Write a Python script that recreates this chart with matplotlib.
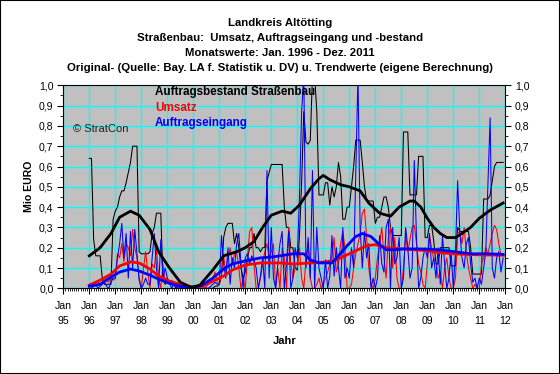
import matplotlib
matplotlib.use("Agg")
import matplotlib.pyplot as plt
from matplotlib.patches import Rectangle
from matplotlib.ticker import MultipleLocator
import numpy as np

plt.rcParams['font.family'] = ['Liberation Sans', 'DejaVu Sans']

# Monatswerte Jan. 1996 - Dez. 2011 (Mio EURO), eine Zeile je Jahr
bestand = [
    0.64, 0.64, 0.24, 0.16, 0.16, 0.16, 0.05, 0.02, 0.02, 0.02, 0.02, 0.34,
    0.38, 0.40, 0.45, 0.48, 0.48, 0.52, 0.57, 0.62, 0.70, 0.70, 0.70, 0.18,
    0.17, 0.17, 0.17, 0.17, 0.18, 0.27, 0.30, 0.37, 0.37, 0.37, 0.04, 0.02,
    0.03, 0.02, 0.02, 0.02, 0.01, 0.01, 0.01, 0.00, 0.00, 0.00, 0.00, 0.00,
    0.00, 0.00, 0.00, 0.00, 0.00, 0.00, 0.00, 0.00, 0.00, 0.00, 0.01, 0.01,
    0.02, 0.06, 0.25, 0.30, 0.32, 0.32, 0.32, 0.22, 0.27, 0.20, 0.10, 0.05,
    0.08, 0.15, 0.20, 0.20, 0.27, 0.20, 0.20, 0.18, 0.20, 0.20, 0.53, 0.57,
    0.61, 0.61, 0.61, 0.61, 0.61, 0.61, 0.40, 0.30, 0.30, 0.20, 0.20, 0.10,
    0.09, 0.26, 0.52, 0.87, 0.72, 0.71, 0.73, 1.05, 1.05, 0.87, 0.46, 0.46,
    0.46, 0.52, 0.52, 0.41, 0.50, 0.45, 0.50, 0.62, 0.55, 0.34, 0.34, 0.40,
    0.40, 0.50, 0.60, 0.73, 0.73, 0.73, 0.62, 0.50, 0.43, 0.43, 0.43, 0.43,
    0.32, 0.35, 0.35, 0.40, 0.45, 0.45, 0.40, 0.30, 0.26, 0.26, 0.26, 0.26,
    0.26, 0.77, 0.77, 0.77, 0.46, 0.46, 0.46, 0.46, 0.65, 0.65, 0.65, 0.25,
    0.25, 0.31, 0.31, 0.23, 0.12, 0.12, 0.20, 0.20, 0.20, 0.20, 0.20, 0.11,
    0.11, 0.11, 0.30, 0.28, 0.28, 0.28, 0.28, 0.28, 0.20, 0.07, 0.07, 0.07,
    0.07, 0.07, 0.44, 0.44, 0.44, 0.46, 0.53, 0.60, 0.62, 0.62, 0.62, 0.62,
]
umsatz = [
    0.01, 0.02, 0.02, 0.03, 0.03, 0.02, 0.03, 0.05, 0.04, 0.03, 0.06, 0.04,
    0.05, 0.17, 0.15, 0.22, 0.13, 0.22, 0.20, 0.16, 0.29, 0.20, 0.15, 0.05,
    0.00, 0.10, 0.18, 0.08, 0.00, 0.12, 0.10, 0.20, 0.05, 0.00, 0.12, 0.03,
    0.05, 0.02, 0.04, 0.02, 0.00, 0.01, 0.00, 0.00, 0.00, 0.00, 0.00, 0.00,
    0.00, 0.00, 0.00, 0.00, 0.00, 0.00, 0.01, 0.02, 0.03, 0.05, 0.08, 0.03,
    0.02, 0.07, 0.16, 0.08, 0.15, 0.20, 0.12, 0.17, 0.18, 0.10, 0.00, 0.05,
    0.00, 0.15, 0.28, 0.30, 0.12, 0.00, 0.00, 0.05, 0.12, 0.18, 0.22, 0.15,
    0.18, 0.22, 0.00, 0.10, 0.00, 0.20, 0.15, 0.00, 0.30, 0.12, 0.05, 0.10,
    0.10, 0.20, 0.05, 0.00, 0.14, 0.22, 0.05, 0.00, 0.00, 0.02, 0.05, 0.00,
    0.02, 0.05, 0.08, 0.12, 0.16, 0.25, 0.08, 0.12, 0.22, 0.28, 0.20, 0.00,
    0.00, 0.02, 0.10, 0.17, 0.22, 0.27, 0.37, 0.39, 0.25, 0.10, 0.02, 0.00,
    0.05, 0.15, 0.22, 0.30, 0.15, 0.05, 0.25, 0.30, 0.10, 0.25, 0.05, 0.00,
    0.00, 0.10, 0.26, 0.18, 0.24, 0.30, 0.31, 0.22, 0.12, 0.08, 0.02, 0.00,
    0.12, 0.26, 0.20, 0.14, 0.13, 0.05, 0.08, 0.00, 0.10, 0.15, 0.05, 0.00,
    0.00, 0.05, 0.27, 0.28, 0.22, 0.30, 0.18, 0.10, 0.05, 0.00, 0.02, 0.00,
    0.00, 0.12, 0.15, 0.20, 0.17, 0.22, 0.27, 0.31, 0.29, 0.22, 0.16, 0.17,
]
eingang = [
    0.00, 0.00, 0.01, 0.02, 0.00, 0.01, 0.02, 0.03, 0.01, 0.00, 0.03, 0.05,
    0.05, 0.15, 0.22, 0.32, 0.15, 0.27, 0.05, 0.28, 0.10, 0.29, 0.17, 0.04,
    0.00, 0.02, 0.05, 0.02, 0.02, 0.15, 0.27, 0.10, 0.00, 0.24, 0.05, 0.10,
    0.05, 0.03, 0.00, 0.02, 0.00, 0.01, 0.00, 0.00, 0.00, 0.00, 0.00, 0.00,
    0.00, 0.00, 0.00, 0.00, 0.00, 0.00, 0.00, 0.00, 0.01, 0.02, 0.03, 0.02,
    0.02, 0.26, 0.12, 0.05, 0.20, 0.02, 0.15, 0.10, 0.22, 0.27, 0.12, 0.00,
    0.15, 0.17, 0.12, 0.16, 0.14, 0.10, 0.00, 0.06, 0.15, 0.00, 0.58, 0.05,
    0.30, 0.05, 0.00, 0.12, 0.22, 0.28, 0.00, 0.12, 0.28, 0.00, 0.05, 0.20,
    0.15, 0.45, 0.87, 1.05, 0.10, 0.25, 0.05, 0.58, 0.00, 0.30, 0.10, 0.05,
    0.00, 0.14, 0.00, 0.06, 0.26, 0.06, 0.20, 0.10, 0.00, 0.30, 0.05, 0.10,
    0.05, 0.20, 0.10, 0.58, 1.05, 0.30, 0.10, 0.28, 0.15, 0.22, 0.00, 0.05,
    0.00, 0.05, 0.26, 0.12, 0.08, 0.30, 0.34, 0.00, 0.30, 0.12, 0.15, 0.25,
    0.00, 0.05, 0.30, 0.20, 0.05, 0.10, 0.63, 0.25, 0.00, 0.05, 0.15, 0.20,
    0.15, 0.27, 0.10, 0.15, 0.05, 0.20, 0.02, 0.26, 0.12, 0.00, 0.05, 0.18,
    0.00, 0.18, 0.53, 0.28, 0.15, 0.10, 0.22, 0.25, 0.12, 0.03, 0.05, 0.00,
    0.05, 0.02, 0.10, 0.18, 0.52, 0.84, 0.10, 0.05, 0.15, 0.18, 0.08, 0.15,
]

# Trendwerte: Monat (ab Jan. 1996) und Wert
trend_bestand_m = [0, 5, 10, 14, 19, 23, 28, 32, 37, 42, 47, 51, 57, 62, 68, 72, 76, 80, 84, 89,
                   93, 97, 102, 106, 108, 111, 116, 120, 125, 129, 134, 139, 143, 148, 150, 153,
                   156, 159, 162, 165, 169, 172, 176, 180, 185, 191]
trend_bestand = [0.16, 0.20, 0.27, 0.35, 0.38, 0.36, 0.29, 0.18, 0.10, 0.03, 0.005, 0.015, 0.09,
                 0.16, 0.18, 0.20, 0.23, 0.30, 0.36, 0.38, 0.37, 0.41, 0.49, 0.54, 0.556, 0.535,
                 0.51, 0.50, 0.48, 0.42, 0.37, 0.355, 0.40, 0.43, 0.43, 0.40, 0.345, 0.30, 0.27,
                 0.25, 0.25, 0.27, 0.30, 0.345, 0.385, 0.42]
trend_umsatz_m = [0, 5, 10, 14, 19, 23, 28, 32, 37, 42, 48, 52, 57, 62, 66, 72, 79, 88, 94, 103,
                  109, 114, 119, 124, 128, 132, 137, 143, 150, 156, 162, 168, 174, 180, 191]
trend_umsatz = [0.016, 0.04, 0.07, 0.11, 0.13, 0.125, 0.095, 0.06, 0.035, 0.02, 0.005, 0.01,
                0.035, 0.06, 0.09, 0.115, 0.125, 0.125, 0.12, 0.125, 0.13, 0.14, 0.165, 0.19,
                0.21, 0.215, 0.20, 0.195, 0.19, 0.185, 0.175, 0.17, 0.167, 0.165, 0.163]
trend_eingang_m = [0, 5, 10, 14, 19, 23, 28, 32, 37, 42, 48, 52, 57, 62, 66, 72, 79, 85, 88, 94,
                   99, 102, 106, 112, 115, 119, 123, 126, 130, 134, 137, 141, 145, 153, 161, 169,
                   176, 184, 191]
trend_eingang = [0.01, 0.02, 0.055, 0.08, 0.095, 0.085, 0.065, 0.045, 0.025, 0.01, 0.005, 0.015,
                 0.05, 0.095, 0.12, 0.135, 0.15, 0.155, 0.16, 0.17, 0.17, 0.14, 0.125, 0.125,
                 0.16, 0.21, 0.255, 0.27, 0.255, 0.215, 0.19, 0.19, 0.194, 0.194, 0.19, 0.18,
                 0.17, 0.17, 0.167]

years = list(range(1995, 2013))
year_labels = ["Jan\n%02d" % (y % 100) for y in years]

def to_year(months):
    return 1996 + np.asarray(months, dtype=float) / 12.0

fig = plt.figure(figsize=(5.6, 3.74), dpi=100)
ax = fig.add_axes([63.3 / 560, 1 - 288.3 / 374, 442 / 560, 203 / 374])
ax.set_facecolor('#C0C0C0')

x_month = to_year(range(len(bestand)))
ax.plot(x_month, bestand, color='black', lw=0.75, zorder=3)
ax.plot(x_month, umsatz, color='#FF0000', lw=0.75, zorder=3)
ax.plot(x_month, eingang, color='#0000FF', lw=0.75, zorder=3)
ax.plot(to_year(trend_umsatz_m), trend_umsatz, color='#FF0000', lw=2.0, zorder=4)
ax.plot(to_year(trend_eingang_m), trend_eingang, color='#0000FF', lw=2.0, zorder=4)
ax.plot(to_year(trend_bestand_m), trend_bestand, color='black', lw=2.0, zorder=4)

ax.set_xlim(1995, 2012)
ax.set_ylim(0, 1.0)
ax.set_xticks(years)
ax.set_xticklabels(year_labels, fontsize=7.6, linespacing=1.65)
ax.xaxis.set_minor_locator(MultipleLocator(1 / 12))
ax.set_yticks(np.arange(0, 1.01, 0.1))
ax.set_yticklabels([("%.1f" % v).replace('.', ',') for v in np.arange(0, 1.01, 0.1)], fontsize=7.6)
ax.yaxis.set_minor_locator(MultipleLocator(0.05))
ax.tick_params(axis='y', which='both', left=True, right=True, labelleft=True, labelright=True,
               direction='out')
ax.tick_params(axis='both', which='major', length=4, width=0.8, pad=3)
ax.tick_params(axis='both', which='minor', length=2, width=0.6)
ax.tick_params(axis='x', which='major', pad=5)
ax.grid(True, which='major', color='#00FFFF', lw=1.0, zorder=1)
ax.set_axisbelow(True)
for s in ax.spines.values():
    s.set_color('black')
    s.set_linewidth(0.8)

ax.set_xlabel("Jahr", fontsize=8, fontweight='bold', labelpad=7)
ax.set_ylabel("Mio EURO", fontsize=7.6, fontweight='bold', labelpad=4)

ax.text(0.2075, 0.966, "Auftragsbestand Straßenbau", color='black', fontsize=8.4,
        fontweight='bold', va='center', transform=ax.transAxes, zorder=5)
ax.text(0.2075, 0.887, "Umsatz", color='#FF0000', fontsize=8.4, fontweight='bold',
        va='center', transform=ax.transAxes, zorder=5)
ax.text(0.2075, 0.813, "Auftragseingang", color='#0000FF', fontsize=8.4, fontweight='bold',
        va='center', transform=ax.transAxes, zorder=5)
ax.text(0.021, 0.785, "© StratCon", color='#202020', fontsize=8, va='center',
        transform=ax.transAxes, zorder=5)

titles = [
    "Landkreis Altötting",
    "Straßenbau:  Umsatz, Auftragseingang und -bestand",
    "Monatswerte: Jan. 1996 - Dez. 2011",
    "Original- (Quelle: Bay. LA f. Statistik u. DV) u. Trendwerte (eigene Berechnung)",
]
for i, t in enumerate(titles):
    fig.text(0.5, 1 - (23 + 15 * i) / 374, t, ha='center', va='center', fontsize=8.2,
             fontweight='bold')

fig.add_artist(Rectangle((0, 0), 1, 1, transform=fig.transFigure, fill=False,
                         ec='black', lw=1.5))

fig.savefig("out.png", dpi=100)
